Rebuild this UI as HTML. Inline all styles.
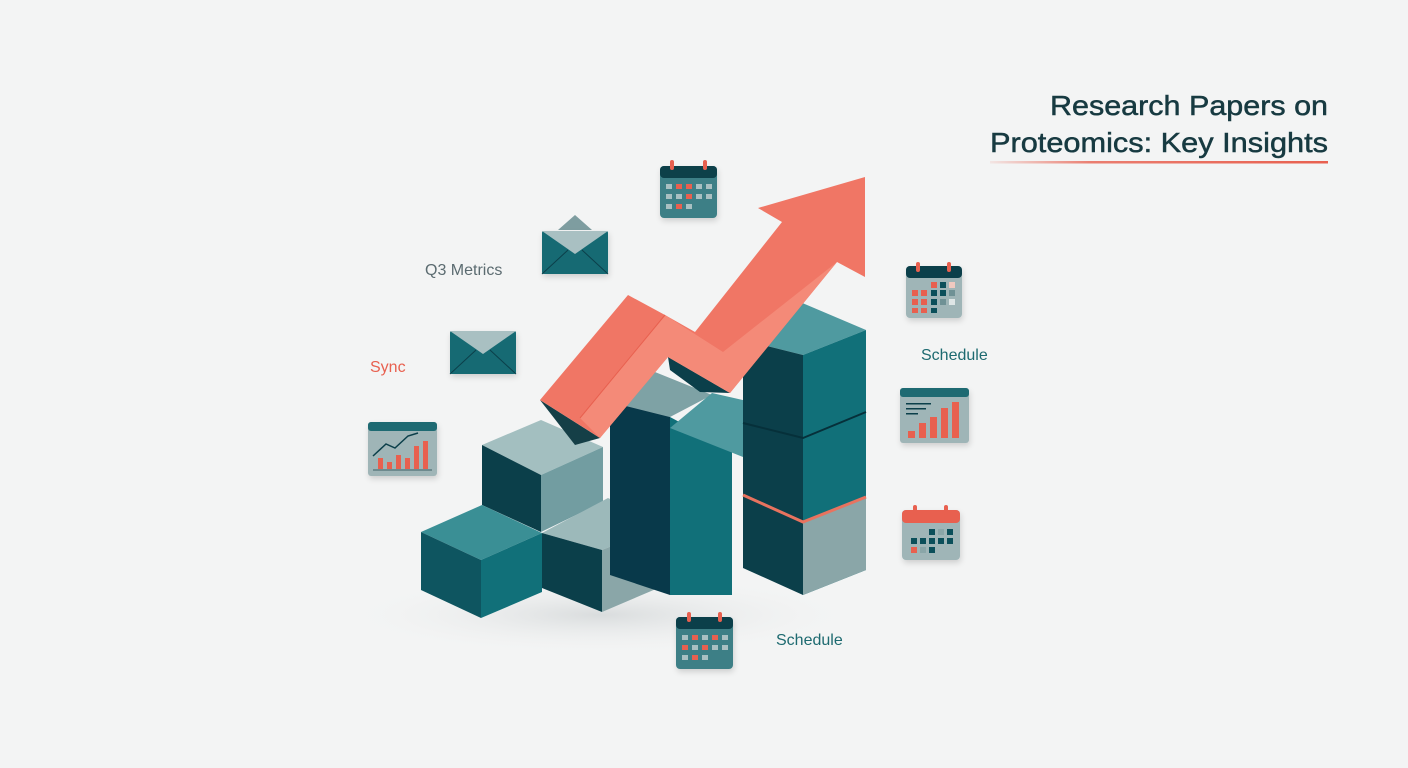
<!DOCTYPE html>
<html><head><meta charset="utf-8"><style>
html,body{margin:0;padding:0;background:#f3f4f4;}
svg{display:block}
text{font-family:"Liberation Sans",sans-serif}
</style></head><body>
<svg width="1408" height="768" viewBox="0 0 1408 768" xmlns="http://www.w3.org/2000/svg">
<defs>
<linearGradient id="ul" x1="0" x2="1"><stop offset="0" stop-color="#e8604f" stop-opacity="0.1"/><stop offset="0.3" stop-color="#e8604f" stop-opacity="0.8"/><stop offset="1" stop-color="#e8604f"/></linearGradient>
<radialGradient id="sh" cx="0.5" cy="0.5" r="0.5"><stop offset="0" stop-color="#d9dcdd"/><stop offset="1" stop-color="#f3f4f4" stop-opacity="0"/></radialGradient>
<filter id="ds" x="-30%" y="-30%" width="160%" height="160%"><feDropShadow dx="1" dy="3" stdDeviation="3" flood-color="#000" flood-opacity="0.15"/></filter>
</defs>
<rect width="1408" height="768" fill="#f3f4f4"/>
<ellipse cx="600" cy="615" rx="260" ry="40" fill="url(#sh)"/>

<!-- Title -->
<text x="1328" y="115" text-anchor="end" font-size="28" fill="#173a41" stroke="#173a41" stroke-width="0.5" textLength="278" lengthAdjust="spacingAndGlyphs">Research Papers on</text>
<text x="1328" y="152" text-anchor="end" font-size="28" fill="#173a41" stroke="#173a41" stroke-width="0.5" textLength="338" lengthAdjust="spacingAndGlyphs">Proteomics: Key Insights</text>
<rect x="990" y="161" width="338" height="2.5" fill="url(#ul)"/>

<!-- labels -->
<text x="425" y="275" font-size="16" fill="#5b6b70">Q3 Metrics</text>
<text x="370" y="372" font-size="16" fill="#e8604f">Sync</text>
<text x="921" y="360" font-size="16" fill="#1d6a70">Schedule</text>
<text x="776" y="645" font-size="16" fill="#1d6a70">Schedule</text>

<!-- Cube B -->
<polygon points="482,445 541,420 603,447 541,475" fill="#a3bfc0"/>
<polygon points="482,445 541,475 541,532 482,505" fill="#0b3f4a"/>
<polygon points="541,475 603,447 603,502 541,532" fill="#729da1"/>
<!-- Cube A -->
<polygon points="421,532 482,505 542,533 481,560" fill="#3a8f95"/>
<polygon points="421,532 481,560 481,618 421,590" fill="#0e5560"/>
<polygon points="481,560 542,533 542,592 481,618" fill="#117079"/>
<!-- Cube C -->
<polygon points="542,533 608,498 663,525 602,550" fill="#9cb9ba"/>
<polygon points="542,533 602,550 602,612 542,588" fill="#0b3f4a"/>
<polygon points="602,550 663,525 663,586 602,612" fill="#8aa6a8"/>
<!-- Column D -->
<polygon points="610,402 650,370 712,395 670,417" fill="#7ea2a5"/>
<polygon points="610,402 670,417 670,595 610,575" fill="#08394a"/>
<polygon points="670,417 732,450 732,595 670,595" fill="#117079"/>
<polygon points="670,428 712,393 778,408 743,457" fill="#4f9aa0"/>
<polygon points="743,457 778,408 778,418 745,465" fill="#0e5560"/>
<!-- Column E -->
<polygon points="743,340 800,302 866,330 803,355" fill="#4f9aa0"/>
<polygon points="743,340 803,355 803,595 743,568" fill="#0b3f4a"/>
<polygon points="803,355 866,330 866,570 803,595" fill="#117079"/>
<polygon points="803,522 866,497 866,570 803,595" fill="#8aa6a8"/>
<polyline points="743,423 803,438 866,412" fill="none" stroke="#06303a" stroke-width="2"/>
<polyline points="743,495 803,522 866,497" fill="none" stroke="#e8735f" stroke-width="3"/>

<!-- Arrow -->
<polygon points="540,400 600,438 575,445" fill="#153f47"/>
<polygon points="668,357 730,393 700,392 670,370" fill="#0b3f4a"/>
<polygon points="540,400 628,295 665,315 695,332 782,222 758,208 865,177 865,277 837,262 730,393 668,357 600,438" fill="#f07665"/>
<polygon points="580,418 665,315 723,352 837,262 730,393 668,357 600,438" fill="#f48a78"/>
<line x1="580" y1="418" x2="665" y2="315" stroke="#e8604f" stroke-width="1"/>

<!-- calendar top -->
<g filter="url(#ds)">
<rect x="660" y="166" width="57" height="52" rx="4" fill="#3e7f86"/>
<rect x="660" y="166" width="57" height="12" rx="4" fill="#0b3f4a"/>
</g>
<rect x="670" y="160" width="4" height="10" rx="2" fill="#e8604f"/><rect x="703" y="160" width="4" height="10" rx="2" fill="#e8604f"/>
<g fill="#a9c0c2"><rect x="666" y="184" width="6" height="5"/><rect x="676" y="184" width="6" height="5" fill="#e8604f"/><rect x="686" y="184" width="6" height="5" fill="#e8604f"/><rect x="696" y="184" width="6" height="5"/><rect x="706" y="184" width="6" height="5"/>
<rect x="666" y="194" width="6" height="5"/><rect x="676" y="194" width="6" height="5"/><rect x="686" y="194" width="6" height="5" fill="#e8604f"/><rect x="696" y="194" width="6" height="5"/><rect x="706" y="194" width="6" height="5"/>
<rect x="666" y="204" width="6" height="5"/><rect x="676" y="204" width="6" height="5" fill="#e8604f"/><rect x="686" y="204" width="6" height="5"/></g>

<!-- envelope 1 -->
<polygon points="558,230 575,215 592,230" fill="#7e9da0"/>
<g filter="url(#ds)"><rect x="542" y="231" width="66" height="43" rx="2" fill="#136a73"/></g>
<polygon points="542,231 608,231 575,254" fill="#a9c0c2"/>
<line x1="542" y1="274" x2="568" y2="250" stroke="#0b3f4a"/><line x1="608" y1="274" x2="582" y2="250" stroke="#0b3f4a"/>

<!-- envelope 2 -->
<g filter="url(#ds)"><rect x="450" y="331" width="66" height="43" rx="2" fill="#136a73"/></g>
<polygon points="450,331 516,331 483,354" fill="#a9c0c2"/>
<line x1="450" y1="374" x2="476" y2="350" stroke="#0b3f4a"/><line x1="516" y1="374" x2="490" y2="350" stroke="#0b3f4a"/>

<!-- chart left -->
<g filter="url(#ds)"><rect x="368" y="422" width="69" height="54" rx="3" fill="#9fb5b7"/></g>
<rect x="368" y="422" width="69" height="9" rx="3" fill="#1e6a72"/>
<g fill="#e8604f"><rect x="378" y="458" width="5" height="11"/><rect x="387" y="462" width="5" height="7"/><rect x="396" y="455" width="5" height="14"/><rect x="405" y="458" width="5" height="11"/><rect x="414" y="446" width="5" height="23"/><rect x="423" y="441" width="5" height="28"/></g>
<polyline points="373,456 386,444 395,448 408,436 418,433" fill="none" stroke="#0b3f4a" stroke-width="1.5"/>
<line x1="373" y1="470" x2="432" y2="470" stroke="#3e5f64"/>

<!-- calendar right top -->
<g filter="url(#ds)"><rect x="906" y="266" width="56" height="52" rx="4" fill="#9fb5b7"/></g>
<rect x="906" y="266" width="56" height="12" rx="4" fill="#0b3f4a"/>
<rect x="916" y="262" width="4" height="10" rx="2" fill="#e8604f"/><rect x="947" y="262" width="4" height="10" rx="2" fill="#e8604f"/>
<g fill="#e8604f"><rect x="931" y="282" width="6" height="6"/><rect x="912" y="290" width="6" height="6"/><rect x="921" y="290" width="6" height="6"/><rect x="912" y="299" width="6" height="6"/><rect x="921" y="299" width="6" height="6"/><rect x="912" y="308" width="6" height="5"/><rect x="921" y="308" width="6" height="5"/></g>
<g fill="#0b4f5a"><rect x="940" y="282" width="6" height="6"/><rect x="931" y="290" width="6" height="6"/><rect x="940" y="290" width="6" height="6"/><rect x="931" y="299" width="6" height="6"/><rect x="931" y="308" width="6" height="5"/></g>
<rect x="949" y="282" width="6" height="6" fill="#f0c9c0"/><rect x="949" y="290" width="6" height="6" fill="#6f9195"/><rect x="940" y="299" width="6" height="6" fill="#6f9195"/><rect x="949" y="299" width="6" height="6" fill="#dfe6e6"/>

<!-- chart right -->
<g filter="url(#ds)"><rect x="900" y="388" width="69" height="55" rx="3" fill="#9fb5b7"/></g>
<rect x="900" y="388" width="69" height="9" rx="3" fill="#1e6a72"/>
<g fill="#0b3f4a"><rect x="906" y="403" width="25" height="1.5"/><rect x="906" y="408" width="20" height="1.5"/><rect x="906" y="413" width="12" height="1.5"/></g>
<g fill="#e8604f"><rect x="908" y="431" width="7" height="7"/><rect x="919" y="423" width="7" height="15"/><rect x="930" y="417" width="7" height="21"/><rect x="941" y="408" width="7" height="30"/><rect x="952" y="402" width="7" height="36"/></g>

<!-- calendar right bottom -->
<g filter="url(#ds)"><rect x="902" y="510" width="58" height="50" rx="4" fill="#9fb5b7"/></g>
<rect x="902" y="510" width="58" height="13" rx="4" fill="#e8604f"/>
<rect x="913" y="505" width="4" height="10" rx="2" fill="#e8604f"/><rect x="944" y="505" width="4" height="10" rx="2" fill="#e8604f"/>
<g fill="#0b4f5a"><rect x="929" y="529" width="6" height="6"/><rect x="947" y="529" width="6" height="6"/><rect x="911" y="538" width="6" height="6"/><rect x="920" y="538" width="6" height="6"/><rect x="929" y="538" width="6" height="6"/><rect x="938" y="538" width="6" height="6"/><rect x="947" y="538" width="6" height="6"/><rect x="929" y="547" width="6" height="6"/></g>
<rect x="911" y="547" width="6" height="6" fill="#e8604f"/><rect x="938" y="529" width="6" height="6" fill="#8aa6a8"/><rect x="920" y="547" width="6" height="6" fill="#8aa6a8"/>

<!-- calendar bottom -->
<g filter="url(#ds)"><rect x="676" y="617" width="57" height="52" rx="4" fill="#3e7f86"/></g>
<rect x="676" y="617" width="57" height="12" rx="4" fill="#0b3f4a"/>
<rect x="687" y="612" width="4" height="10" rx="2" fill="#e8604f"/><rect x="718" y="612" width="4" height="10" rx="2" fill="#e8604f"/>
<g fill="#a9c0c2"><rect x="682" y="635" width="6" height="5"/><rect x="692" y="635" width="6" height="5" fill="#e8604f"/><rect x="702" y="635" width="6" height="5"/><rect x="712" y="635" width="6" height="5" fill="#e8604f"/><rect x="722" y="635" width="6" height="5"/>
<rect x="682" y="645" width="6" height="5" fill="#e8604f"/><rect x="692" y="645" width="6" height="5"/><rect x="702" y="645" width="6" height="5" fill="#e8604f"/><rect x="712" y="645" width="6" height="5"/><rect x="722" y="645" width="6" height="5"/>
<rect x="682" y="655" width="6" height="5"/><rect x="692" y="655" width="6" height="5" fill="#e8604f"/><rect x="702" y="655" width="6" height="5"/></g>
</svg>
</body></html>
